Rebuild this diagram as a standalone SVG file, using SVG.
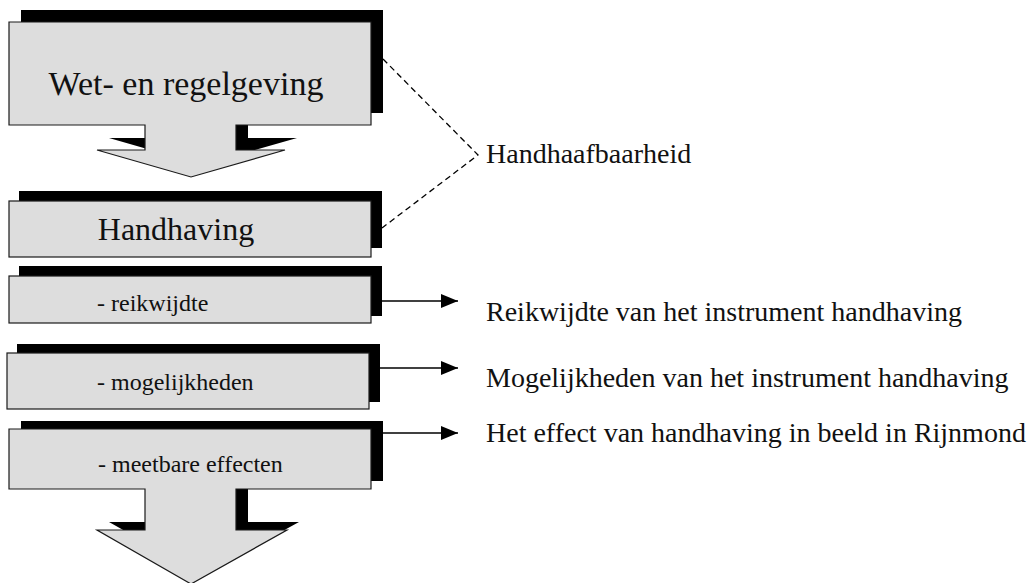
<svg xmlns="http://www.w3.org/2000/svg" width="1032" height="583" viewBox="0 0 1032 583">
  <defs>
    <style>
      .shadow { fill: #000000; }
      .face { fill: #dddddd; stroke: #1a1a1a; stroke-width: 1.2; }
      .big { font-family: "Liberation Serif", "Times New Roman", serif; font-size: 32px; fill: #111111; }
      .small { font-family: "Liberation Serif", "Times New Roman", serif; font-size: 24px; fill: #111111; }
      .label { font-family: "Liberation Serif", "Times New Roman", serif; font-size: 28px; fill: #111111; }
      .link { stroke: #000000; stroke-width: 1.5; fill: none; }
      .dash { stroke: #000000; stroke-width: 1.3; fill: none; stroke-dasharray: 6 4; }
    </style>
    <marker id="head" viewBox="0 0 17 14" refX="17" refY="7" markerWidth="17" markerHeight="14" markerUnits="userSpaceOnUse" orient="auto">
      <path d="M0,0 L17,7 L0,14 Z" fill="#000000"/>
    </marker>
  </defs>

  <rect width="1032" height="583" fill="#ffffff"/>

  <!-- Wet- en regelgeving: box with downward block arrow -->
  <g id="node-wet">
    <path class="shadow" d="M21,10 H383 V113 H248 V138 H297 L203,165 L109,138 H157 V113 H21 Z"/>
    <path class="face" d="M9,22 H371 V125 H236 V150 H285 L191,177 L97,150 H145 V125 H9 Z"/>
    <text class="big" x="186" y="95" text-anchor="middle" style="font-size:34px">Wet- en regelgeving</text>
  </g>

  <!-- Handhaving -->
  <g id="node-handhaving">
    <rect class="shadow" x="19" y="191" width="363" height="57"/>
    <rect class="face" x="9" y="201" width="362" height="56"/>
    <text class="big" x="176" y="240" text-anchor="middle">Handhaving</text>
  </g>

  <!-- - reikwijdte -->
  <g id="node-reikwijdte">
    <rect class="shadow" x="19" y="266" width="363" height="50"/>
    <rect class="face" x="9" y="276" width="362" height="47"/>
    <text class="small" x="97" y="311">- reikwijdte</text>
  </g>

  <!-- - mogelijkheden -->
  <g id="node-mogelijkheden">
    <rect class="shadow" x="17" y="344" width="363" height="58"/>
    <rect class="face" x="7" y="353" width="362" height="56"/>
    <text class="small" x="97" y="390">- mogelijkheden</text>
  </g>

  <!-- - meetbare effecten: box with downward block arrow -->
  <g id="node-meetbaar">
    <path class="shadow" d="M21,421 H383 V481 H248 V522 H299 L203,575 L109,522 H157 V481 H21 Z"/>
    <path class="face" d="M9,429 H371 V489 H236 V530 H287 L191,584 L97,530 H145 V489 H9 Z"/>
    <text class="small" x="98" y="472">- meetbare effecten</text>
  </g>

  <!-- Right-hand labels -->
  <g id="label-handhaafbaarheid">
    <text class="label" x="486" y="163">Handhaafbaarheid</text>
  </g>
  <g id="label-reikwijdte">
    <text class="label" x="486" y="321">Reikwijdte van het instrument handhaving</text>
  </g>
  <g id="label-mogelijkheden">
    <text class="label" x="486" y="387">Mogelijkheden van het instrument handhaving</text>
  </g>
  <g id="label-effect">
    <text class="label" x="486" y="442">Het effect van handhaving in beeld in Rijnmond</text>
  </g>

  <!-- Connectors -->
  <g id="connectors">
    <polyline class="dash" points="383,59 478,155 382,228"/>
    <line class="link" x1="382" y1="301" x2="458" y2="301" marker-end="url(#head)"/>
    <line class="link" x1="380" y1="368" x2="458" y2="368" marker-end="url(#head)"/>
    <line class="link" x1="383" y1="433" x2="458" y2="433" marker-end="url(#head)"/>
  </g>
</svg>
